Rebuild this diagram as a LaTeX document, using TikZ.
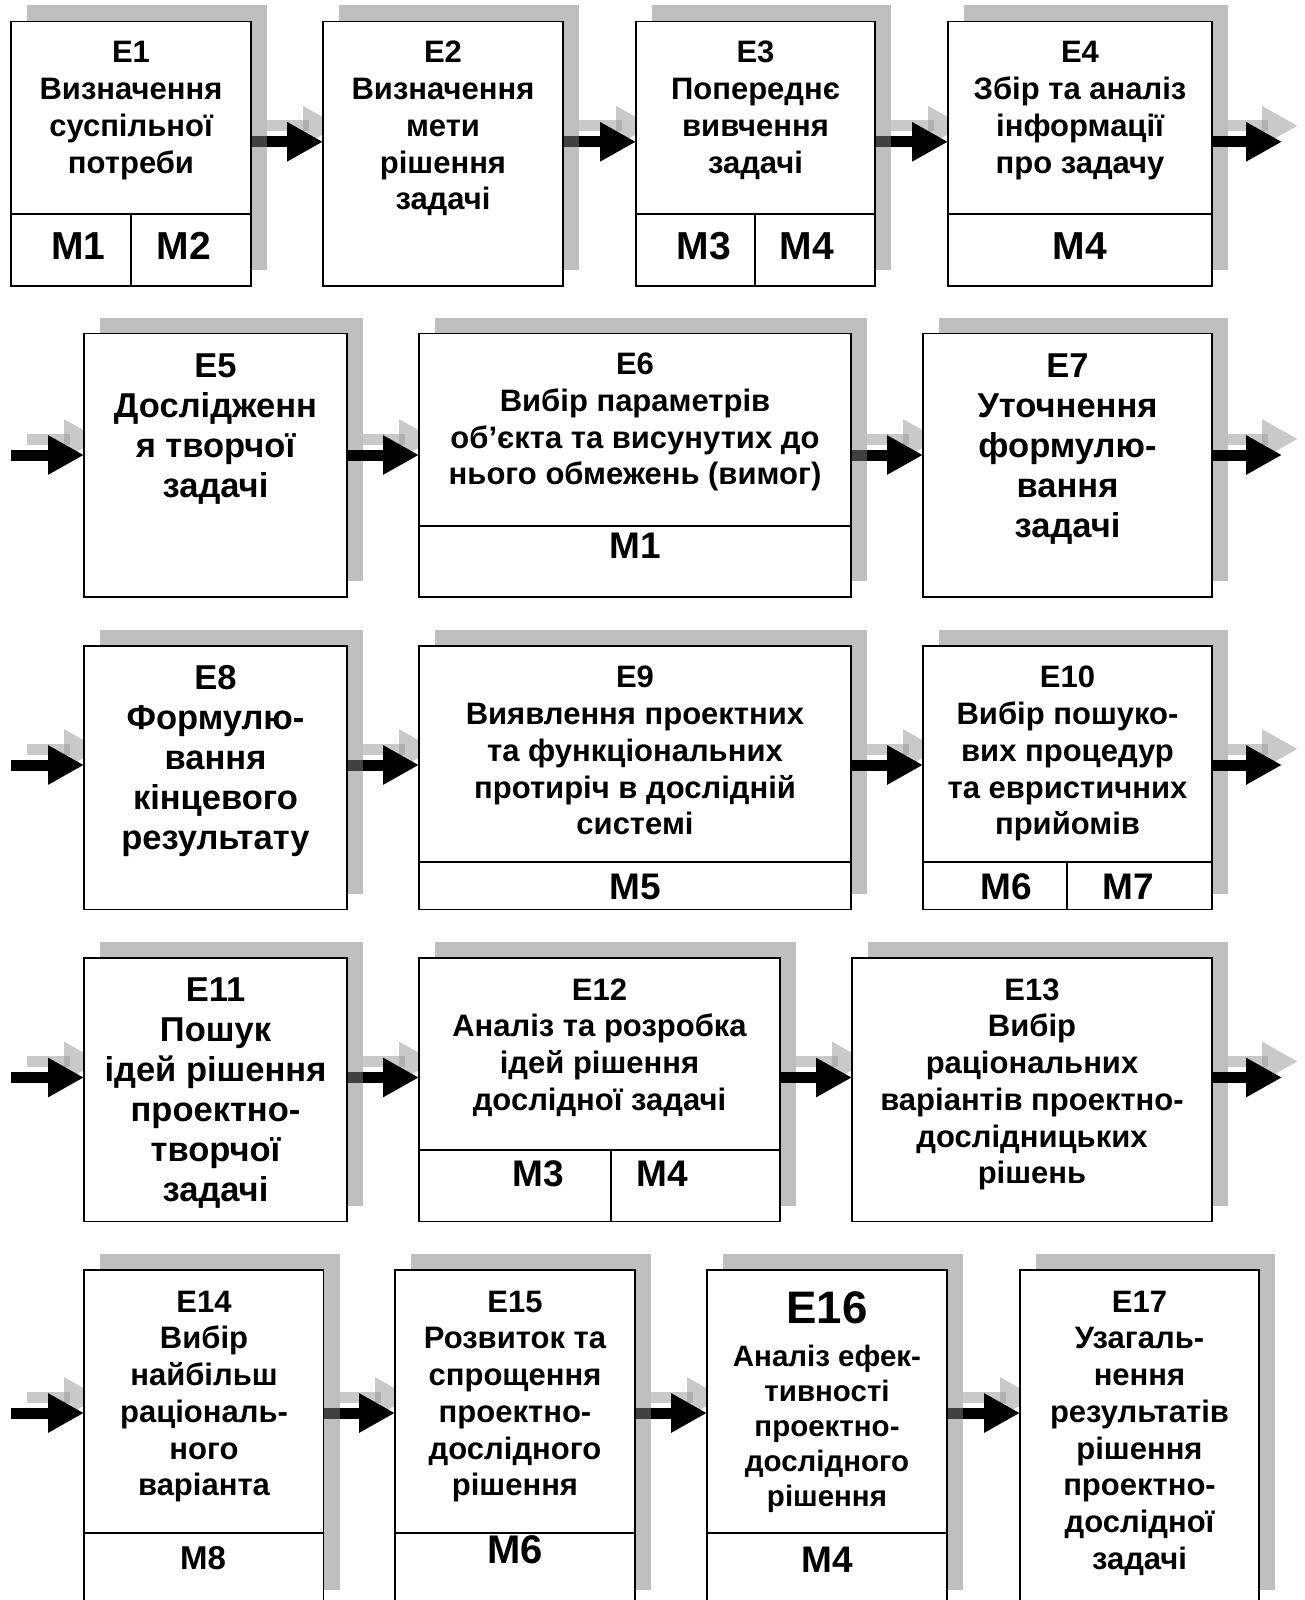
\documentclass[tikz,border=0pt]{standalone}
\usepackage{fontspec}
\setmainfont{Liberation Sans}
\usetikzlibrary{arrows.meta,calc}
\pgfdeclarelayer{boxshade}
\pgfdeclarelayer{flow}
\pgfsetlayers{boxshade,flow,main}

\tikzset{
  stagebox/.style={draw=black, line width=1.5pt, fill=white, inner sep=0pt, outer sep=0pt},
  boxshadow/.style={fill=black!25},
  flowarrow/.style={line width=11pt, draw=black, -{Triangle[length=36pt,width=37pt]}},
  flowshadow/.style={line width=11pt, draw=black!21, -{Triangle[length=36pt,width=37pt]}},
  flowoverlap/.style={fill=black!31},
  shaftshade/.style={line width=11pt, draw=black!75},
  divider/.style={line width=1.5pt},
  caption/.style={align=center, inner sep=0pt, anchor=north,
    font=\bfseries\fontsize{31}{36.7}\selectfont},
  widecaption/.style={align=center, inner sep=0pt, anchor=north,
    font=\bfseries\fontsize{34.5}{40}\selectfont},
  mlabel/.style={inner sep=0pt, font=\bfseries\fontsize{#1}{#1}\selectfont},
}

% one stage: box node plus its offset shadow
\newcommand\stagenode[5]{%
  \node[stagebox, anchor=north west,
        minimum width={(#4)-(#2)}, minimum height={(#5)-(#3)}] (#1) at (#2,#3) {};
  \begin{pgfonlayer}{boxshade}
    \fill[boxshadow] ($(#1.south west)+(16,-16)$) rectangle ($(#1.north east)+(16,-16)$);
  \end{pgfonlayer}}

% block arrow with its light offset copy
\newcommand\flowlink[2]{%
  \begin{pgfonlayer}{flow}
    \draw[flowshadow] ($(#1)+(16,-16)$) -- ($(#2)+(16,-16)$);
    \fill[flowoverlap] ($(#2)+(-20,-10.5)$) rectangle ($(#2)+(-14,-21.5)$);
    \draw[flowarrow] (#1) -- (#2);
  \end{pgfonlayer}}
% the part of a shaft lying over a box shadow
\newcommand\shaftshade[1]{%
  \begin{pgfonlayer}{flow}
    \draw[shaftshade] (#1) -- ++(16,0);
  \end{pgfonlayer}}

\begin{document}
\begin{tikzpicture}[x=1pt, y=-1pt]
\useasboundingbox (0,0) rectangle (1305,1600);
\clip (0,0) rectangle (1305,1600);

% ---------- row 1 ----------
\stagenode{e1}{11}{21.5}{251}{286}
\stagenode{e2}{323}{21.5}{563}{286}
\stagenode{e3}{636}{21.5}{875}{286}
\stagenode{e4}{948}{21.5}{1212}{286}
\draw[divider] (e1.west |- 0,214) -- (e1.east |- 0,214);
\draw[divider] (131,214) -- (131,0 |- e1.south);
\draw[divider] (e3.west |- 0,214) -- (e3.east |- 0,214);
\draw[divider] (755,214) -- (755,0 |- e3.south);
\draw[divider] (e4.west |- 0,214) -- (e4.east |- 0,214);

\node[caption] (e1t) at (131,32.7) {\rule{0pt}{30pt}E1\\Визначення\\суспільної\\потреби};
\node[caption] (e2t) at (443,32.7) {\rule{0pt}{30pt}E2\\Визначення\\мети\\рішення\\задачі};
\node[caption] (e3t) at (755.5,32.7) {\rule{0pt}{30pt}E3\\Попереднє\\вивчення\\задачі};
\node[caption] (e4t) at (1080,32.7) {\rule{0pt}{30pt}E4\\Збір та аналіз\\інформації\\про задачу};
\node[mlabel=39] (m1a) at (78.6,246) {M1};
\node[mlabel=39] (m2a) at (183.6,246) {M2};
\node[mlabel=39] (m3a) at (704,246) {M3};
\node[mlabel=39] (m4a) at (807,246) {M4};
\node[mlabel=39] (m4b) at (1080,246) {M4};

\coordinate (r1) at (0,141.8);
\coordinate (out1) at (1282,141.8);
\flowlink{e1.east |- r1}{e2.west |- r1}
\flowlink{e2.east |- r1}{e3.west |- r1}
\flowlink{e3.east |- r1}{e4.west |- r1}
\flowlink{e4.east |- r1}{out1}
\shaftshade{e1.east |- r1}
\shaftshade{e2.east |- r1}
\shaftshade{e3.east |- r1}

% ---------- row 2 ----------
\stagenode{e5}{84}{333.6}{347}{597}
\stagenode{e6}{419}{333.6}{851}{597}
\stagenode{e7}{923}{333.6}{1212}{597}
\draw[divider] (e6.west |- 0,526) -- (e6.east |- 0,526);

\node[widecaption] (e5t) at (215.5,344.5) {\rule{0pt}{33pt}E5\\Дослідженн\\я творчої\\задачі};
\node[caption] (e6t) at (635,344.5) {\rule{0pt}{30pt}E6\\Вибір параметрів\\об’єкта та висунутих до\\нього обмежень (вимог)};
\node[widecaption] (e7t) at (1067.5,344.5) {\rule{0pt}{33pt}E7\\Уточнення\\формулю-\\вання\\задачі};
\node[mlabel=37] (m1b) at (635,546) {M1};

\coordinate (r2) at (0,455);
\coordinate (in2) at (11,455);
\coordinate (out2) at (1282,455);
\flowlink{in2}{e5.west |- r2}
\flowlink{e5.east |- r2}{e6.west |- r2}
\flowlink{e6.east |- r2}{e7.west |- r2}
\flowlink{e7.east |- r2}{out2}
\shaftshade{e6.east |- r2}

% ---------- row 3 ----------
\stagenode{e8}{84}{646}{347}{909.5}
\stagenode{e9}{419}{646}{851}{909.5}
\stagenode{e10}{923}{646}{1212}{909.5}
\draw[divider] (e9.west |- 0,862) -- (e9.east |- 0,862);
\draw[divider] (e10.west |- 0,862) -- (e10.east |- 0,862);
\draw[divider] (1067,862) -- (1067,0 |- e10.south);

\node[widecaption] (e8t) at (215.5,656.7) {\rule{0pt}{33pt}E8\\Формулю-\\вання\\кінцевого\\результату};
\node[caption] (e9t) at (635,657.7) {\rule{0pt}{30pt}E9\\Виявлення проектних\\та функціональних\\протиріч в дослідній\\системі};
\node[caption] (e10t) at (1067.5,657.7) {\rule{0pt}{30pt}E10\\Вибір пошуко-\\вих процедур\\та евристичних\\прийомів};
\node[mlabel=37] (m5a) at (635,887) {M5};
\node[mlabel=37] (m6a) at (1006,887) {M6};
\node[mlabel=37] (m7a) at (1128,887) {M7};

\coordinate (r3) at (0,765);
\coordinate (in3) at (11,765);
\coordinate (out3) at (1282,765);
\flowlink{in3}{e8.west |- r3}
\flowlink{e8.east |- r3}{e9.west |- r3}
\flowlink{e9.east |- r3}{e10.west |- r3}
\flowlink{e10.east |- r3}{out3}
\shaftshade{e8.east |- r3}

% ---------- row 4 ----------
\stagenode{e11}{84}{958}{347}{1221.5}
\stagenode{e12}{419}{958}{780}{1221.5}
\stagenode{e13}{852}{958}{1212}{1221.5}
\draw[divider] (e12.west |- 0,1150) -- (e12.east |- 0,1150);
\draw[divider] (611,1150) -- (611,0 |- e12.south);

\node[widecaption] (e11t) at (215.5,968) {\rule{0pt}{33pt}E11\\Пошук\\ідей рішення\\проектно-\\творчої\\задачі};
\node[caption] (e12t) at (599.5,970) {\rule{0pt}{30pt}E12\\Аналіз та розробка\\ідей рішення\\дослідної задачі};
\node[caption] (e13t) at (1032,970) {\rule{0pt}{30pt}E13\\Вибір\\раціональних\\варіантів проектно-\\дослідницьких\\рішень};
\node[mlabel=37] (m3b) at (538,1174) {M3};
\node[mlabel=37] (m4c) at (662,1174) {M4};

\coordinate (r4) at (0,1077.5);
\coordinate (in4) at (11,1077.5);
\coordinate (out4) at (1282,1077.5);
\flowlink{in4}{e11.west |- r4}
\flowlink{e11.east |- r4}{e12.west |- r4}
\flowlink{e12.east |- r4}{e13.west |- r4}
\flowlink{e13.east |- r4}{out4}
\shaftshade{e11.east |- r4}

% ---------- row 5 ----------
\stagenode{e14}{84}{1270}{323.5}{1606}
\stagenode{e15}{395}{1270}{635}{1606}
\stagenode{e16}{707}{1270}{947}{1606}
\stagenode{e17}{1020}{1270}{1259}{1606}
\draw[divider] (e14.west |- 0,1533) -- (e14.east |- 0,1533);
\draw[divider] (e15.west |- 0,1533) -- (e15.east |- 0,1533);
\draw[divider] (e16.west |- 0,1533) -- (e16.east |- 0,1533);

\node[caption] (e14t) at (204,1282) {\rule{0pt}{30pt}E14\\Вибір\\найбільш\\раціональ-\\ного\\варіанта};
\node[caption] (e15t) at (515,1282) {\rule{0pt}{30pt}E15\\Розвиток та\\спрощення\\проектно-\\дослідного\\рішення};
\node[inner sep=0pt, anchor=base, font=\bfseries\fontsize{45.6}{46}\selectfont] (e16h) at (827,1323) {E16};
\node[caption, font=\bfseries\fontsize{29.5}{35}\selectfont] (e16t) at (827,1337) {\rule{0pt}{29pt}Аналіз ефек-\\тивності\\проектно-\\дослідного\\рішення};
\node[caption] (e17t) at (1139.5,1282) {\rule{0pt}{30pt}E17\\Узагаль-\\нення\\результатів\\рішення\\проектно-\\дослідної\\задачі};
\node[mlabel=33] (m8a) at (203,1558) {M8};
\node[mlabel=40] (m6b) at (515,1550) {M6};
\node[mlabel=37] (m4d) at (827,1560) {M4};

\coordinate (r5) at (0,1413);
\coordinate (in5) at (11,1413);
\flowlink{in5}{e14.west |- r5}
\flowlink{e14.east |- r5}{e15.west |- r5}
\flowlink{e15.east |- r5}{e16.west |- r5}
\flowlink{e16.east |- r5}{e17.west |- r5}
\shaftshade{e14.east |- r5}
\shaftshade{e15.east |- r5}
\shaftshade{e16.east |- r5}
\end{tikzpicture}
\end{document}
